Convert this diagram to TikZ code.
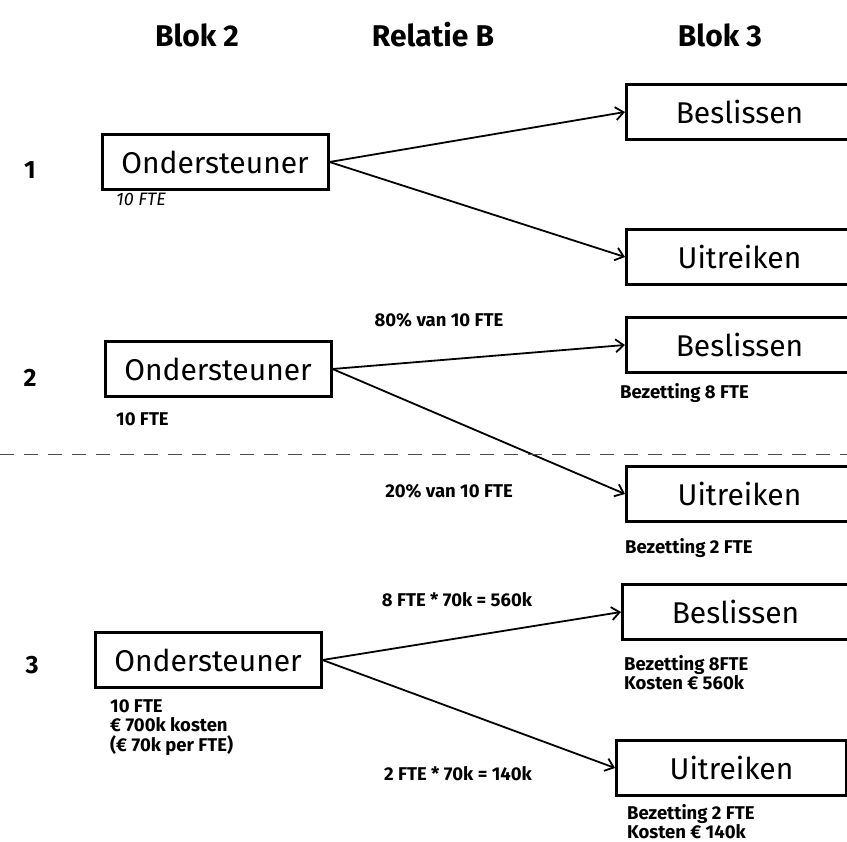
\documentclass[tikz,border=0pt]{standalone}
\usepackage{fontspec}
\setmainfont{Fira Sans}
\usetikzlibrary{arrows.meta}

\tikzset{
	box/.style={draw,line width=3pt,inner sep=0,minimum height=55pt,font=\fontsize{30}{34}\selectfont},
	srcbox/.style={box,minimum width=226pt},
	dstbox/.style={box,minimum width=226pt,anchor=west},
	head/.style={font=\bfseries\fontsize{30}{34}\selectfont},
	rownum/.style={font=\bfseries\fontsize{25}{30}\selectfont},
	note/.style={font=\bfseries\fontsize{18.5}{19.5}\selectfont,inner sep=0,anchor=north west,align=left},
	flow/.style={line width=1.8pt,-{Straight Barb[length=8pt,width=13pt]}},
}

\begin{document}
\begin{tikzpicture}[x=1pt,y=-1pt]
	\useasboundingbox (0,0) rectangle (847,842);
	\node[head] (h2) at (197,35) {Blok 2};
	\node[head] (hb) at (433,35) {Relatie B};
	\node[head] (h3) at (720,35) {Blok 3};
	\node[rownum] (r1) at (30,170) {1};
	\node[rownum] (r2) at (30,378) {2};
	\node[rownum] (r3) at (32,665) {3};
	% row 1
	\node[srcbox] (o1) at (215,162) {Ondersteuner};
	\node[dstbox] (b1) at (625,112) {Beslissen};
	\node[dstbox] (u1) at (625,257) {Uitreiken};
	\node[note,font=\itshape\fontsize{18}{20}\selectfont] (f1) at (116,193) {10 FTE};
	\draw[flow] (o1.east) -- (b1.west);
	\draw[flow] (o1.east) -- (u1.west);
	% row 2
	\node[srcbox] (o2) at (218,369) {Ondersteuner};
	\node[dstbox] (b2) at (625,345) {Beslissen};
	\node[dstbox] (u2) at (625,494) {Uitreiken};
	\node[note] (f2) at (116,412) {10 FTE};
	\node[note] (z2) at (620,383) {Bezetting 8 FTE};
	\node[note] (y2) at (625,538) {Bezetting 2 FTE};
	\draw[flow] (o2.east) -- (b2.west);
	\draw[flow] (o2.east) -- (u2.west);
	\node[note,anchor=center] (p2) at (439,320) {80\% van 10 FTE};
	\node[note,anchor=center] (q2) at (449,491) {20\% van 10 FTE};
	\draw[line width=1pt,dash pattern=on 14pt off 10pt,black!70] (0,455) -- (847,455);
	% row 3
	\node[srcbox] (o3) at (208,660) {Ondersteuner};
	\node[dstbox] (b3) at (621,612) {Beslissen};
	\node[dstbox,minimum width=230pt] (u3) at (615,768) {Uitreiken};
	\node[note] (f3) at (110,699) {10 FTE\\€ 700k kosten\\(€ 70k per FTE)};
	\node[note] (z3) at (624,655) {Bezetting 8FTE\\Kosten € 560k};
	\node[note] (y3) at (627,804) {Bezetting 2 FTE\\Kosten € 140k};
	\draw[flow] (o3.east) -- (b3.west);
	\draw[flow] (o3.east) -- (u3.west);
	\node[note,anchor=center] (p3) at (457,600) {8 FTE * 70k = 560k};
	\node[note,anchor=center] (q3) at (458,774) {2 FTE * 70k = 140k};
\end{tikzpicture}
\end{document}
